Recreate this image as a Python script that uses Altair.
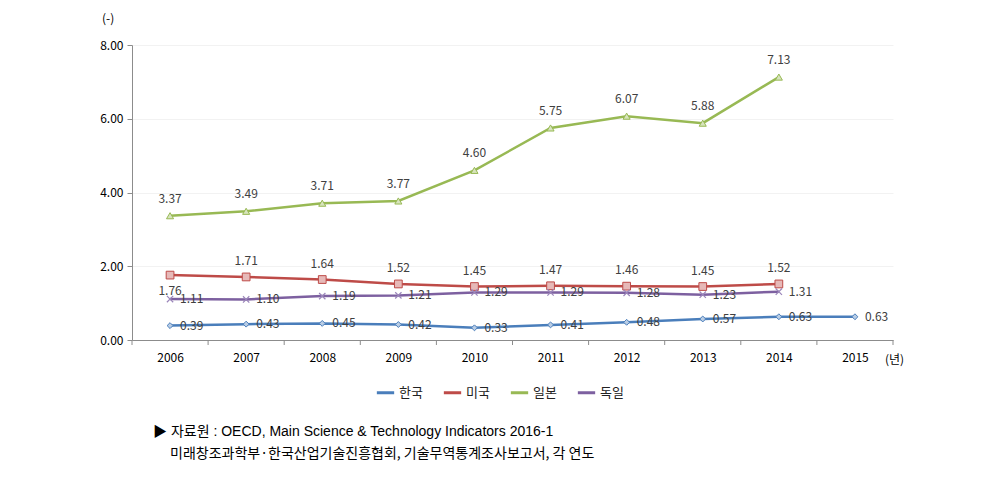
import altair as alt
import pandas as pd

years = [2006, 2007, 2008, 2009, 2010, 2011, 2012, 2013, 2014, 2015]
series_names = ["한국", "미국", "일본", "독일"]
korea = [0.39, 0.43, 0.45, 0.42, 0.33, 0.41, 0.48, 0.57, 0.63, 0.63]
usa = [1.76, 1.71, 1.64, 1.52, 1.45, 1.47, 1.46, 1.45, 1.52]
japan = [3.37, 3.49, 3.71, 3.77, 4.60, 5.75, 6.07, 5.88, 7.13]
germany = [1.11, 1.10, 1.19, 1.21, 1.29, 1.29, 1.28, 1.23, 1.31]
tick_bounds = [2005.5 + i for i in range(11)]

line_colors = ["#4a7ebb", "#be4b48", "#98b954", "#7d60a0"]

rows = []
for name, vals in zip(series_names, [korea, usa, japan, germany]):
    for y, v in zip(years, vals):
        rows.append({"year": y, "value": v, "series": name, "label": f"{v:.2f}"})
df = pd.DataFrame(rows)

FONT = "Noto Sans CJK KR"
W, H = 761, 295

xscale = alt.Scale(domain=[2005.5, 2015.5], nice=False, zero=False)
yscale = alt.Scale(domain=[0, 8], nice=False)
color = alt.Color("series:N", scale=alt.Scale(domain=series_names, range=line_colors),
                  sort=series_names,
                  legend=alt.Legend(orient="none", direction="horizontal", legendX=243, legendY=337,
                                    title=None, symbolType="stroke", symbolStrokeWidth=3,
                                    symbolSize=300, labelFont=FONT, labelFontSize=13,
                                    labelColor="#222222", columnPadding=14, labelOffset=3))

base = alt.Chart(df)

lines = base.mark_line(strokeWidth=2.5).encode(
    x=alt.X("year:Q", scale=xscale,
            axis=alt.Axis(values=years, format="d", title=None, grid=False, ticks=False,
                          domainColor="#8c8c8c", labelFont=FONT, labelFontSize=12,
                          labelColor="#000000", labelPadding=12)),
    y=alt.Y("value:Q", scale=yscale,
            axis=alt.Axis(values=[0, 2, 4, 6, 8], format=".2f", title=None,
                          gridColor="#f2f2f2", domainColor="#8c8c8c", tickColor="#8c8c8c",
                          tickSize=5, labelFont=FONT, labelFontSize=12, labelColor="#000000",
                          labelPadding=4)),
    color=color,
    detail="series:N",
)

bound_df = pd.DataFrame({"b": tick_bounds})
xticks = alt.Chart(bound_df).mark_rule(color="#8c8c8c").encode(
    x=alt.X("b:Q", scale=xscale),
    y=alt.value(H), y2=alt.value(H + 5),
)

p_kr = base.transform_filter(alt.datum.series == "한국").mark_point(
    shape="diamond", size=35, fill="#b9cde5", stroke="#4a7ebb", strokeWidth=1, opacity=1, filled=True
).encode(x=alt.X("year:Q", scale=xscale), y=alt.Y("value:Q", scale=yscale))
p_us = base.transform_filter(alt.datum.series == "미국").mark_point(
    shape="square", size=60, fill="#e6b9b8", stroke="#be4b48", strokeWidth=1, opacity=1, filled=True
).encode(x=alt.X("year:Q", scale=xscale), y=alt.Y("value:Q", scale=yscale))
p_jp = base.transform_filter(alt.datum.series == "일본").mark_point(
    shape="triangle-up", size=50, fill="#d7e4bd", stroke="#98b954", strokeWidth=1, opacity=1, filled=True
).encode(x=alt.X("year:Q", scale=xscale), y=alt.Y("value:Q", scale=yscale))
p_de = base.transform_filter(alt.datum.series == "독일").mark_point(
    shape="M-1,-1L1,1M-1,1L1,-1", size=40, filled=False, stroke="#9b86ba", strokeWidth=1.2, opacity=1
).encode(x=alt.X("year:Q", scale=xscale), y=alt.Y("value:Q", scale=yscale))

lab_common = dict(font=FONT, fontSize=12, color="#404040")
enc = dict(x=alt.X("year:Q", scale=xscale), y=alt.Y("value:Q", scale=yscale), text="label:N")

lab_jp = base.transform_filter(alt.datum.series == "일본").mark_text(
    dy=-17, align="center", **lab_common).encode(**enc)
lab_us = base.transform_filter((alt.datum.series == "미국") & (alt.datum.year > 2006)).mark_text(
    dy=-16, align="center", **lab_common).encode(**enc)
lab_us0 = base.transform_filter((alt.datum.series == "미국") & (alt.datum.year == 2006)).mark_text(
    dy=16, align="center", **lab_common).encode(**enc)
lab_de = base.transform_filter(alt.datum.series == "독일").mark_text(
    dx=10, align="left", **lab_common).encode(**enc)
lab_kr = base.transform_filter(alt.datum.series == "한국").mark_text(
    dx=10, align="left", **lab_common).encode(**enc)

ann = pd.DataFrame({"t": ["x"]})
annb = alt.Chart(ann)
unit_y = annb.mark_text(text="(-)", font=FONT, fontSize=12, color="#000000", align="left").encode(
    x=alt.value(-30), y=alt.value(-26))
unit_x = annb.mark_text(text="(년)", font=FONT, fontSize=12, color="#000000", align="left").encode(
    x=alt.value(753), y=alt.value(315))
src1 = annb.mark_text(text="▶ 자료원 : OECD, Main Science & Technology Indicators 2016-1",
                      font="Liberation Sans, Noto Sans CJK KR", fontSize=14, color="#000000",
                      align="left").encode(
    x=alt.value(21), y=alt.value(387))
src2 = annb.mark_text(text="미래창조과학부·한국산업기술진흥협회, 기술무역통계조사보고서, 각 연도",
                      font=FONT, fontSize=14, color="#000000", align="left").encode(
    x=alt.value(38), y=alt.value(409))

chart = alt.layer(
    lines, xticks, p_kr, p_us, p_jp, p_de,
    lab_jp, lab_us, lab_us0, lab_de, lab_kr,
    unit_y, unit_x, src1, src2,
).properties(
    width=W, height=H,
    autosize=alt.AutoSizeParams(type="none"),
    padding={"left": 132, "top": 45, "right": 99, "bottom": 137},
    background="white",
).configure_view(stroke=None)

chart.save("out.html", embed_options={"renderer": "svg", "actions": False})
